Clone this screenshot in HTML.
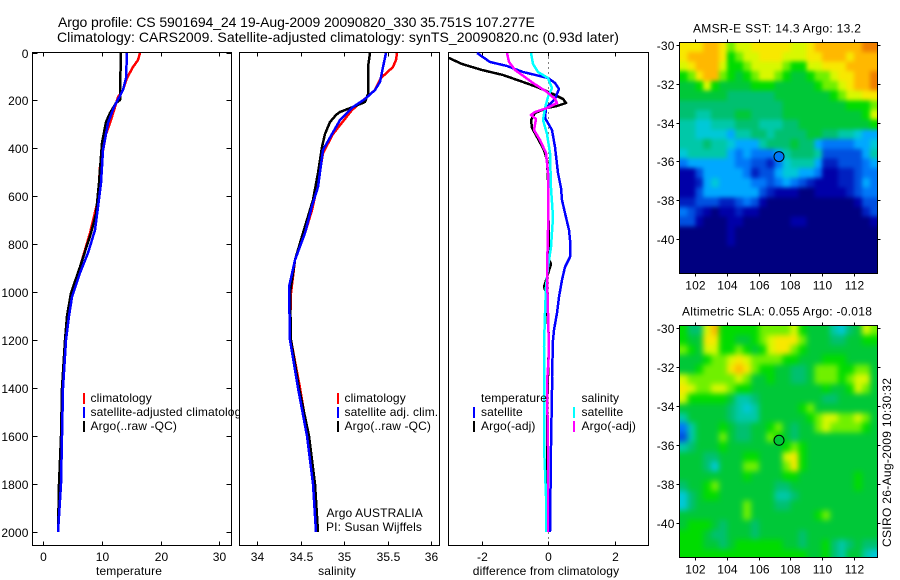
<!DOCTYPE html>
<html>
<head>
<meta charset="utf-8">
<title>Argo profile</title>
<style>
html,body{margin:0;padding:0;background:#fff;}
svg{display:block;}
text{font-family:"Liberation Sans",sans-serif;font-size:12px;fill:#000;letter-spacing:.12px;}
</style>
</head>
<body>
<svg id="fig" xmlns="http://www.w3.org/2000/svg" width="900" height="580" viewBox="0 0 900 580"></svg>
<script>
// ---------- depth ticks and x ticks ----------
const depthTicks = [0,200,400,600,800,1000,1200,1400,1600,1800,2000];
const tempTicks = [0,10,20,30];
const salTicks = [34,34.5,35,35.5,36];
const diffTicks = [-2,0,2];
const lonTicks = [102,104,106,108,110,112];
const latTicks = [-30,-32,-34,-36,-38,-40];

// ---------- temperature profiles ----------
const tempClimDepth = [0,32,60,108,157,185,226,296,338,476,615,754,893,1004,1100,1200,1400,1600,1800,2000];
const tempClimValues = [16.5,16.2,15.3,14.2,13.5,12.7,12.2,11.4,10.7,9.65,9.4,7.96,6.25,4.84,4.25,3.75,3.3,3.07,2.85,2.56];
const tempSatDepth = [0,108,157,226,296,407,546,643,740,837,920,1018,1100,1200,1400,1600,1800,2000];
const tempSatValues = [14.2,14.1,13.5,12.0,11.1,10.2,9.8,9.4,8.8,7.6,6.2,4.95,4.3,3.85,3.35,3.15,2.95,2.55];
const tempArgoDepth = [0,157,199,212,253,288,378,546,672,754,893,1004,1100,1200,1400,1600,1800,2000];
const tempArgoValues = [13.3,13.07,13.0,12.4,11.3,10.7,9.95,9.5,9.0,8.1,6.2,4.65,4.1,3.7,3.2,2.97,2.7,2.45];

// ---------- salinity profiles ----------
const salClimDepth = [0,32,60,108,157,185,240,338,421,546,657,754,865,1004,1150,1200,1400,1600,1800,2000];
const salClimValues = [35.605,35.6,35.566,35.43,35.355,35.26,35.087,34.875,34.76,34.7,34.626,34.55,34.434,34.388,34.38,34.39,34.49,34.587,34.664,34.7];
const salSatDepth = [0,60,122,157,192,226,282,338,407,560,640,754,865,976,1200,1400,1600,1800,2000];
const salSatValues = [35.48,35.45,35.41,35.355,35.24,35.105,34.95,34.857,34.76,34.7,34.626,34.55,34.434,34.37,34.38,34.465,34.57,34.645,34.676];
const salArgoDepth = [0,60,171,206,226,247,261,289,338,393,504,615,754,865,1004,1200,1400,1600,1800,2000];
const salArgoValues = [35.3,35.28,35.27,35.24,35.105,34.95,34.91,34.84,34.78,34.75,34.7,34.645,34.53,34.434,34.376,34.385,34.48,34.6,34.664,34.7];

// ---------- difference profiles ----------
const diffTempSatDepth = [0,39,57,81,108,129,154,192,233,275,324,393,504,565,615,671,740,782,852,893,949,1018,1088,1157,1199,1352,1407,1643,2000];
const diffTempSatValues = [-2.14,-1.76,-1.25,-0.75,0,0.2,0.33,0.2,-0.07,-0.1,0.1,0.2,0.28,0.38,0.42,0.5,0.62,0.65,0.65,0.5,0.4,0.33,0.25,0.17,0.13,0.12,0.1,0.07,0.05];
const diffTempArgoDepth = [0,25,46,74,95,122,143,171,192,210,222,233,252,282,316,352,407,449,532,865,880,977,1000,1200,1500,2000];
const diffTempArgoValues = [-3.4,-2.98,-2.61,-2,-1.355,-0.75,-0.35,0.15,0.45,0.53,0.25,-0.05,-0.4,-0.53,-0.5,-0.33,-0.13,-0.03,0,0.03,0.08,-0.13,-0.08,0.02,-0.05,0];
const diffSalSatDepth = [0,46,81,108,150,185,233,282,338,421,565,686,810,893,977,1088,1227,1407,1643,1740,1850,2000];
const diffSalSatValues = [-0.53,-0.47,-0.3,0,0.12,0,-0.1,-0.17,-0.03,0.05,0.08,0.13,0.08,0,-0.07,-0.1,-0.13,-0.13,-0.13,-0.09,-0.06,-0.07];
const diffSalArgoDepth = [0,39,74,95,129,164,192,212,233,250,260,278,324,366,421,504,565,740,921,1250,1380,1643,2000];
const diffSalArgoValues = [-1.25,-1.17,-1,-0.8,-0.45,-0.05,0.2,0.25,-0.05,-0.4,-0.53,-0.37,-0.43,-0.25,-0.07,-0.02,0,0,-0.03,0.03,-0.05,0,0];

// ---------- SST map colour levels, 0.5 degree cells ----------
const sstLevels = [
[13,13,13,14,14,13,11,12,12,13,13,13,13,13,12,12,13,14,14,14,14,14,14,15,15],
[13,14,14,14,14,13,10,11,12,12,13,13,13,12,12,12,13,13,14,14,14,13,14,14,14],
[12,13,14,14,14,12,10,10,11,12,12,12,12,11,10,10,12,12,13,13,13,14,14,14,14],
[10,11,13,14,14,11,10,9,10,11,12,12,11,10,9,9,10,11,11,12,13,13,14,14,15],
[9,9,10,12,10,9,9,9,9,10,10,10,9,9,9,9,9,10,11,11,12,13,14,14,15],
[9,9,9,9,9,9,8,8,8,8,8,8,9,9,9,9,9,9,9,10,11,12,12,13,13],
[8,8,8,8,8,8,8,8,8,8,8,8,8,9,9,9,9,9,9,9,9,10,10,10,11],
[8,8,7,7,8,8,8,9,9,8,8,8,8,9,9,9,9,9,9,9,9,9,9,10,12],
[7,7,6,6,7,7,7,8,8,8,7,7,7,8,8,9,9,9,9,9,9,9,9,9,10],
[7,7,6,6,6,6,5,7,7,8,8,7,8,8,8,8,9,9,8,8,7,7,6,5,5],
[7,7,7,8,7,7,6,5,5,5,7,8,8,8,9,8,8,5,4,4,4,4,5,5,6],
[6,7,7,7,7,7,5,4,5,4,4,4,5,7,8,8,8,7,3,3,3,3,3,5,7],
[4,5,5,5,5,5,5,4,4,3,3,2,4,6,7,7,7,5,2,2,3,3,3,4,5],
[1,1,3,5,5,5,5,5,4,2,3,3,5,6,6,5,5,4,1,1,2,2,3,4,4],
[1,1,2,5,6,5,5,5,5,4,4,3,4,5,4,3,2,1,1,1,2,2,3,5,4],
[1,1,3,5,5,5,5,5,5,5,3,2,1,1,1,0,0,1,1,1,1,2,3,4,4],
[2,2,3,3,3,2,2,3,4,3,1,0,0,0,0,0,0,0,0,0,0,0,1,3,3],
[4,3,2,1,0,1,1,2,1,1,0,0,0,0,0,0,0,0,0,0,0,0,0,2,3],
[3,3,1,0,0,0,1,1,0,0,0,0,0,0,1,1,0,0,0,0,0,0,0,0,1],
[0,0,0,0,0,0,1,0,0,0,0,0,0,0,0,0,0,0,0,0,0,0,0,0,0],
[0,0,0,0,0,0,1,0,0,0,0,0,0,0,0,0,0,0,0,0,0,0,0,0,0],
[0,0,0,0,0,0,0,0,0,0,0,0,0,0,0,0,0,0,0,0,0,0,0,0,0],
[0,0,0,0,0,0,0,0,0,0,0,0,0,0,0,0,0,0,0,0,0,0,0,0,0],
[0,0,0,0,0,0,0,0,0,0,0,0,0,0,0,0,0,0,0,0,0,0,0,0,0]
];

// ---------- SLA map colour levels, 0.5 degree cells ----------
const slaLevels = [
[10,8,8,12,14,10,10,10,10,10,11,11,11,11,12,10,9,9,9,7,6,8,9,12,11],
[10,9,9,13,13,10,10,9,9,10,11,12,13,13,13,11,9,9,9,8,8,9,9,10,10],
[11,10,9,12,12,10,10,11,10,9,10,12,13,13,11,10,9,9,9,9,9,9,9,9,9],
[9,9,9,10,11,11,12,13,12,11,11,11,11,10,10,9,9,9,10,10,10,9,9,9,9],
[9,9,10,11,11,11,13,14,13,11,10,10,9,9,8,8,9,11,11,11,10,10,11,11,9],
[12,11,11,11,11,11,11,12,11,9,9,10,9,9,8,8,9,11,11,11,10,11,12,12,9],
[13,12,11,11,12,12,11,10,10,9,9,9,9,9,9,9,9,9,10,9,9,10,12,11,9],
[12,10,10,10,10,10,9,7,7,8,9,9,9,9,9,9,9,9,8,8,9,9,9,9,9],
[9,9,9,9,9,9,8,7,6,7,9,9,9,9,9,10,11,9,9,9,9,9,9,9,9],
[7,9,9,9,9,9,8,7,7,7,9,9,9,9,9,9,10,11,12,12,11,11,12,11,9],
[4,7,9,9,9,10,9,8,8,9,9,10,11,9,8,9,9,11,12,11,11,11,11,10,9],
[3,7,9,9,9,11,9,8,8,9,9,11,10,9,8,9,9,9,9,9,9,9,9,9,9],
[7,8,9,9,9,10,9,9,9,9,9,9,9,10,11,10,9,9,9,9,9,9,9,9,9],
[9,9,9,8,8,9,9,9,10,10,9,9,9,12,13,10,9,9,9,9,9,9,9,9,9],
[9,9,9,8,6,9,9,9,11,11,9,9,9,11,13,10,9,9,9,9,9,9,9,9,9],
[9,9,9,9,9,9,9,9,10,9,9,9,9,10,10,9,9,9,9,9,9,9,10,9,9],
[8,9,9,10,11,9,9,9,9,9,9,9,8,8,9,9,9,9,9,9,9,9,10,9,9],
[6,8,9,10,10,9,9,9,9,9,9,9,7,7,8,9,9,9,9,9,9,9,9,9,9],
[6,8,9,9,9,9,9,9,11,9,9,9,8,8,9,9,9,9,9,9,9,9,9,9,9],
[9,9,9,9,9,9,9,9,11,9,9,9,9,9,9,9,9,10,11,9,9,9,9,9,9],
[9,10,10,10,9,8,9,9,9,8,9,9,9,9,9,9,9,9,9,9,9,9,9,9,9],
[10,10,10,9,8,8,9,9,9,8,9,9,9,9,9,8,9,9,9,9,9,9,9,9,9],
[10,10,10,9,9,8,9,10,10,10,10,10,10,9,9,8,9,9,10,8,7,8,9,8,8],
[10,10,10,10,10,10,10,10,10,10,10,10,10,10,10,10,9,9,10,8,7,9,9,7,6]
];

// ---------- Argo position and level shown in each marker ----------
const argoLon = 107.277;
const argoLat = -35.751;
const sstArgoLevel = 4;
const slaArgoLevel = 9;

const palette = ['#000080','#0000a8','#0020c0','#0050e0','#0078f8','#00a8ff','#00c8d8','#00c8a8','#00c070','#00c838','#00dc00','#70f000','#d8f800','#f8e800','#ffb800','#f08000'];

const NS = 'http://www.w3.org/2000/svg';
const fig = document.getElementById('fig');
function mk(tag, parent, attrs){
  const e = document.createElementNS(NS, tag);
  for (const k in attrs) e.setAttribute(k, attrs[k]);
  (parent || fig).appendChild(e);
  return e;
}
function label(parent, x, y, str, anchor, len){
  const attrs = {x:x, y:y, 'text-anchor':anchor || 'start'};
  if (len) { attrs.textLength = len; attrs.lengthAdjust = 'spacing'; }
  const t = mk('text', parent, attrs);
  t.textContent = str;
  return t;
}
function hline(parent, x1, y1, x2, y2){
  return mk('line', parent, {x1:x1, y1:y1, x2:x2, y2:y2, stroke:'#000', 'stroke-width':1, 'shape-rendering':'crispEdges'});
}

// ---------- axis functions ----------
const yDepth = d => 52.5 + 0.2398 * d;
const xTemp = v => 43.3 + 5.867 * v;
const xSal = v => 257.3 + 86.85 * (v - 34);
const xDiff = v => 548.3 + 33.2 * v;
const P_TOP = 52.5, P_BOTTOM = 545.5;

function panelFrame(name, left, right, xTicks, xf, xLabelFn, axisTitle, titleX, depthMode){
  const g = mk('g');
  
  
  const bg = mk('rect', g, {x:left, y:P_TOP, width:right-left, height:P_BOTTOM-P_TOP, fill:'#fff', stroke:'#000', 'stroke-width':1, 'shape-rendering':'crispEdges'});
  
  
  xTicks.forEach(v => {
    const x = Math.round(xf(v)) + 0.5;
    hline(g, x, P_TOP, x, P_TOP + 4);
    hline(g, x, P_BOTTOM, x, P_BOTTOM - 4);
    const t = label(g, x, 561, xLabelFn(v), 'middle');
    
    
  });
  const at = label(g, titleX, 575, axisTitle, 'middle');
  
  
  if (depthMode) {
    depthTicks.forEach(d => {
      const y = Math.round(yDepth(d)) + 0.5;
      hline(g, left, y, left + 5, y);
      hline(g, right, y, right - 5, y);
      const t = label(g, left - 4, y + 4.5, String(d), 'end');
      
      
    });
  }
  return g;
}
function clipFor(id, x, y, w, h){
  const c = mk('clipPath', fig, {id:id});
  mk('rect', c, {x:x, y:y, width:w, height:h});
}
function profile(parent, depths, values, xf, color, clip){
  const pts = depths.map((d, i) => Math.round(xf(values[i])) + ',' + Math.round(yDepth(d))).join(' ');
  const attrs = {points:pts, fill:'none', stroke:color, 'stroke-width':2.5, 'shape-rendering':'crispEdges', 'stroke-linejoin':'round'};
  if (clip) attrs['clip-path'] = 'url(#' + clip + ')';
  return mk('polyline', parent, attrs);
}
function legendBar(parent, x, y, color){
  return mk('rect', parent, {x:x, y:y - 5, width:2, height:11, fill:color, 'shape-rendering':'crispEdges'});
}
function legendRow(parent, barX, textX, y, color, str){
  const lg = mk('g', parent);
  
  
  if (color) legendBar(lg, barX, y - 4, color);
  label(lg, textX, y, str);
  return lg;
}

// ---------- main title ----------
const t1 = label(fig, 58, 27, 'Argo profile: CS 5901694_24 19-Aug-2009 20090820_330 35.751S 107.277E', 'start', 477);


t1.style.fontSize = '14px';
const t2 = label(fig, 57, 42, 'Climatology: CARS2009. Satellite-adjusted climatology: synTS_20090820.nc (0.93d later)', 'start', 562);


t2.style.fontSize = '14px';

// ---------- temperature panel ----------
const p1 = panelFrame('temperature-panel', 32.5, 231.5, tempTicks, xTemp, String, 'temperature', 129, true);
clipFor('clip1', 32, 52, 200, 494);
const s1a = profile(p1, tempClimDepth, tempClimValues, xTemp, '#ff0000', 'clip1');


const s1c = profile(p1, tempArgoDepth, tempArgoValues, xTemp, '#000000', 'clip1');


const s1b = profile(p1, tempSatDepth, tempSatValues, xTemp, '#0000ff', 'clip1');


legendRow(p1, 83, 90.5, 402, '#ff0000', 'climatology');
legendRow(p1, 83, 90.5, 416, '#0000ff', 'satellite-adjusted climatology');
legendRow(p1, 83, 90.5, 430, '#000000', 'Argo(..raw -QC)');

// ---------- salinity panel ----------
const p2 = panelFrame('salinity-panel', 239.5, 439.5, salTicks, xSal, String, 'salinity', 337, false);
clipFor('clip2', 239, 52, 201, 494);
const s2a = profile(p2, salClimDepth, salClimValues, xSal, '#ff0000', 'clip2');


const s2c = profile(p2, salArgoDepth, salArgoValues, xSal, '#000000', 'clip2');


const s2b = profile(p2, salSatDepth, salSatValues, xSal, '#0000ff', 'clip2');


legendRow(p2, 337, 344.5, 402, '#ff0000', 'climatology');
legendRow(p2, 337, 344.5, 416, '#0000ff', 'satellite adj. clim.');
legendRow(p2, 337, 344.5, 430, '#000000', 'Argo(..raw -QC)');
const a1 = label(p2, 326.5, 517, 'Argo AUSTRALIA');


const a2 = label(p2, 326, 531, 'PI: Susan Wijffels');



// ---------- difference panel ----------
const diffLabel = v => v < 0 ? '-' + Math.abs(v) : String(v);
const p3 = panelFrame('difference-panel', 448.5, 648.5, diffTicks, xDiff, diffLabel, 'difference from climatology', 546, false);
clipFor('clip3', 448, 52, 201, 494);
const zero = mk('line', p3, {x1:Math.round(xDiff(0))+0.5, y1:P_TOP, x2:Math.round(xDiff(0))+0.5, y2:P_BOTTOM, stroke:'#000', 'stroke-width':1, 'stroke-dasharray':'1 4', 'shape-rendering':'crispEdges'});


const s3b = profile(p3, diffTempArgoDepth, diffTempArgoValues, xDiff, '#000000', 'clip3');


const s3a = profile(p3, diffTempSatDepth, diffTempSatValues, xDiff, '#0000ff', 'clip3');


const s3c = profile(p3, diffSalSatDepth, diffSalSatValues, xDiff, '#00ffff', 'clip3');


const s3d = profile(p3, diffSalArgoDepth, diffSalArgoValues, xDiff, '#ff00ff', 'clip3');


legendRow(p3, 0, 481, 402, null, 'temperature');
legendRow(p3, 473, 481, 416, '#0000ff', 'satellite');
legendRow(p3, 473, 481, 430, '#000000', 'Argo(-adj)');
legendRow(p3, 0, 581.5, 402, null, 'salinity');
legendRow(p3, 573, 581.5, 416, '#00ffff', 'satellite');
legendRow(p3, 573, 581.5, 430, '#ff00ff', 'Argo(-adj)');

// ---------- maps ----------
function drawMap(name, rows, top, bottom, lat30Y, pxPerDeg, title, titleX, titleLen, argoLevel, blur){
  const left = 679.5, right = 877.5;
  const xLon = lon => 679.4 + 15.87 * (lon - 101);
  const yLat = lat => lat30Y + pxPerDeg * (-30 - lat);
  const g = mk('g');
  
  
  const clipId = name + '-clip';
  clipFor(clipId, left, top, right - left, bottom - top);
  const filterId = name + '-smooth';
  const flt = mk('filter', fig, {id:filterId, filterUnits:'userSpaceOnUse', x:left - 30, y:top - 30, width:right - left + 60, height:bottom - top + 60, 'color-interpolation-filters':'sRGB'});
  mk('feGaussianBlur', flt, {stdDeviation:blur});
  const clipped = mk('g', g, {'clip-path':'url(#' + clipId + ')'});
  const cells = mk('g', clipped, {filter:'url(#' + filterId + ')'});
  
  
  const lastRow = rows.length - 1;
  rows.forEach((row, r) => {
    const lastCol = row.length - 1;
    row.forEach((level, c) => {
      const lonA = 101 + 0.5 * c, latA = -29.85 - 0.5 * r;
      const x0 = xLon(lonA) - (c === 0 ? 25 : 0);
      const x1 = xLon(lonA + 0.5) + (c === lastCol ? 25 : 0);
      const y0 = yLat(latA) - (r === 0 ? 25 : 0);
      const y1 = yLat(latA - 0.5) + (r === lastRow ? 25 : 0);
      const cell = mk('rect', cells, {x:x0, y:y0, width:x1 - x0 + 0.5, height:y1 - y0 + 0.5, fill:palette[level], 'shape-rendering':'crispEdges'});
      
      
    });
  });
  const frame = mk('rect', g, {x:left, y:top, width:right-left, height:bottom-top, fill:'none', stroke:'#000', 'stroke-width':1, 'shape-rendering':'crispEdges'});
  
  
  lonTicks.forEach(v => {
    const x = Math.round(xLon(v)) + 0.5;
    hline(g, x, top, x, top - 3);
    hline(g, x, bottom, x, bottom + 3);
    const t = label(g, x, bottom + 16, String(v), 'middle');
    
    
  });
  latTicks.forEach(v => {
    const y = Math.round(yLat(v)) + 0.5;
    hline(g, left, y, left - 3, y);
    hline(g, right, y, right + 3, y);
    const t = label(g, left - 5, y + 4.5, String(v), 'end');
    
    
  });
  const m = mk('circle', g, {cx:xLon(argoLon), cy:yLat(argoLat), r:5, fill:palette[argoLevel], stroke:'#000', 'stroke-width':1});
  
  
  const tt = label(g, titleX, top - 10, title, 'start', titleLen);
  
  
}
drawMap('sst-map', sstLevels, 42.5, 273.5, 45, 19.4, 'AMSR-E SST: 14.3 Argo: 13.2', 693, 168, sstArgoLevel, 2.2);
drawMap('sla-map', slaLevels, 325.5, 557.5, 328.3, 19.47, 'Altimetric SLA: 0.055 Argo: -0.018', 682, 190, slaArgoLevel, 3);

const stamp = mk('text', fig, {transform:'translate(891 547) rotate(-90)', textLength:169, lengthAdjust:'spacing'});
stamp.textContent = 'CSIRO 26-Aug-2009 10:30:32';


</script>
</body>
</html>
